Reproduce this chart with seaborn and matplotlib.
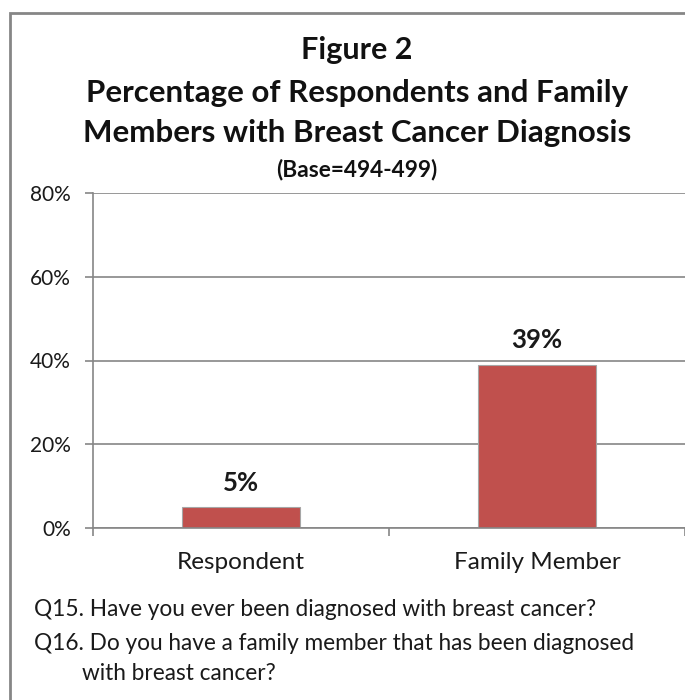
import matplotlib
matplotlib.use("Agg")
import matplotlib.pyplot as plt
from matplotlib.patches import Rectangle
from matplotlib.ticker import FuncFormatter
import seaborn as sns
import pandas as pd

categories = ["Respondent", "Family Member"]
values = [5, 39]
y_ticks = [0, 20, 40, 60, 80]

title_lines = ["Figure 2",
               "Percentage of Respondents and Family",
               "Members with Breast Cancer Diagnosis"]
base_note = "(Base=494-499)"
footnotes = ["Q15. Have you ever been diagnosed with breast cancer?",
             "Q16. Do you have a family member that has been diagnosed",
             "with breast cancer?"]

sns.set_theme(style="white")
plt.rcParams["font.family"] = ["Lato", "DejaVu Sans"]

W, H = 685, 700
fig = plt.figure(figsize=(W / 100, H / 100), dpi=100)

def fx(px):
    return px / W

def fy(py):
    return 1 - py / H

ax = fig.add_axes([fx(93), fy(528), fx(685) - fx(93), fy(193) - fy(528)])

df = pd.DataFrame({"category": categories, "value": values})
sns.barplot(data=df, x="category", y="value", ax=ax, color="#C0504D",
            width=0.4, edgecolor="#A6A6A6", linewidth=0.8, saturation=1)

ax.set_xlim(-0.5, 1.5)
ax.set_ylim(0, 80)
ax.set_yticks(y_ticks)
ax.yaxis.set_major_formatter(FuncFormatter(lambda v, p: f"{v:.0f}%"))
ax.yaxis.grid(True, color="#868686", linewidth=1.2)
ax.set_axisbelow(True)
ax.set_xlabel("")
ax.set_ylabel("")

for side in ["top", "right"]:
    ax.spines[side].set_visible(False)
for side in ["left", "bottom"]:
    ax.spines[side].set_color("#868686")
    ax.spines[side].set_linewidth(1.2)

ax.tick_params(axis="y", which="major", left=True, length=6, width=1.2,
               color="#868686", labelsize=15, labelcolor="#1a1a1a", pad=10)
ax.tick_params(axis="x", which="major", bottom=False, labelsize=17.5,
               labelcolor="#1a1a1a", pad=11)
# category boundary ticks below the baseline
ax.set_xticks([-0.5, 0.5, 1.5], minor=True)
ax.tick_params(axis="x", which="minor", bottom=True, length=6, width=1.2,
               color="#868686")

for i, v in enumerate(values):
    ax.annotate(f"{v}%", (i, v), xytext=(0, 9), textcoords="offset points",
                ha="center", va="bottom", fontsize=18.5, fontweight="bold",
                color="#1a1a1a")

# title block
fig.text(fx(357), fy(50), title_lines[0], ha="center", va="center",
         fontsize=22, fontweight="bold", color="#111111")
fig.text(fx(357), fy(93), title_lines[1], ha="center", va="center",
         fontsize=22.5, fontweight="bold", color="#111111")
fig.text(fx(357), fy(133), title_lines[2], ha="center", va="center",
         fontsize=22.5, fontweight="bold", color="#111111")
fig.text(fx(357), fy(170), base_note, ha="center", va="center",
         fontsize=16.3, fontweight="bold", color="#111111")

# question footnotes
fig.text(fx(34), fy(610), footnotes[0], ha="left", va="center",
         fontsize=16.3, color="#1a1a1a")
fig.text(fx(34), fy(643), footnotes[1], ha="left", va="center",
         fontsize=16.3, color="#1a1a1a")
fig.text(fx(82), fy(673), footnotes[2], ha="left", va="center",
         fontsize=16.3, color="#1a1a1a")

# chart frame
fig.patches.append(Rectangle((fx(10), fy(760)), fx(700), fy(13) - fy(760),
                             transform=fig.transFigure, fill=False,
                             edgecolor="#868686", linewidth=2))

fig.savefig("out.png", dpi=100)
